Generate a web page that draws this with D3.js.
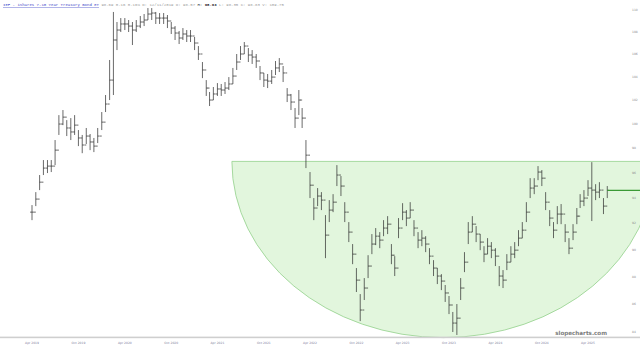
<!DOCTYPE html>
<html lang="en">
<head>
<meta charset="utf-8">
<title>IEF - iShares 7-10 Year Treasury Bond ETF</title>
<script src="https://d3js.org/d3.v7.min.js"></script>
<style>
body{margin:0;background:#fff;}
svg{display:block;}
</style>
</head>
<body>
<div id="chart1"></div>
<script>
// half-month bars, Apr 2019 -> Jun 2025 (1st and 16th of each month)
var firstMonth = "2019-04-01"
var highs = [93.42,94.44,95.80,97.01,97.01,97.01,98.65,100.73,101.16,100.31,
    100.48,100.73,99.48,99.07,99.65,99.15,98.82,99.65,100.99,102.44,
    105.49,109.82,108.90,109.26,109.26,109.08,108.90,109.08,109.45,109.63,
    110.18,110.18,109.82,109.72,109.72,109.54,108.90,108.53,108.08,108.35,
    108.17,108.17,107.54,106.73,105.31,103.73,102.70,103.13,103.47,103.39,
    103.56,103.99,104.79,106.02,106.73,107.09,106.55,106.37,106.02,104.96,
    104.35,104.26,104.61,105.40,105.66,104.96,103.04,102.53,101.33,102.87,
    101.33,98.65,96.04,93.97,94.76,94.44,92.64,93.81,94.28,96.60,
    95.72,93.65,92.10,90.42,88.62,86.71,87.88,89.58,91.18,91.64,
    91.33,92.25,92.56,90.42,89.51,92.41,93.57,93.03,93.65,92.25,
    91.33,91.48,91.02,90.11,89.21,88.62,88.17,87.37,86.57,85.42,
    85.99,87.88,89.81,92.10,92.56,91.79,91.18,90.26,90.87,90.57,
    90.11,88.77,88.47,89.66,90.26,90.57,91.48,92.10,93.65,95.55,
    95.55,96.52,96.20,94.44,93.03,92.10,93.34,93.50,91.94,90.87,
    91.94,93.19,94.28,94.60,95.39,96.84,95.07,95.23,93.97,94.92]
var lows = [92.25,93.34,94.60,95.80,95.96,96.04,96.60,99.07,99.89,98.98,
    98.65,99.07,98.15,97.57,98.32,97.82,97.66,98.40,99.48,100.99,
    102.01,102.44,106.37,107.99,108.17,107.99,106.82,107.99,108.35,108.53,
    109.08,109.08,108.72,108.72,108.72,108.35,107.81,107.27,106.91,107.27,
    107.09,107.09,106.37,105.49,103.90,102.36,101.50,102.01,102.36,102.36,
    102.53,102.87,103.39,104.61,105.49,106.02,105.31,105.14,104.79,103.73,
    103.13,103.04,103.39,104.17,104.43,103.56,101.84,101.16,99.65,100.73,
    99.65,96.36,93.97,92.25,93.34,93.03,89.36,92.10,92.87,94.92,
    94.13,92.10,90.57,88.91,86.86,84.77,86.28,87.88,89.66,90.34,
    90.11,91.02,91.18,88.91,88.03,90.87,92.25,91.79,92.41,91.02,
    90.11,90.26,89.81,88.91,88.03,87.44,87.00,86.14,85.27,84.00,
    83.79,86.28,88.32,90.42,91.33,90.57,89.96,89.06,89.66,89.36,
    88.77,87.29,87.15,88.47,89.06,89.36,90.26,90.87,92.10,93.97,
    94.28,95.39,94.92,93.03,91.79,90.87,91.94,91.94,90.57,89.66,
    90.72,91.94,93.19,93.34,94.13,92.18,93.81,93.97,92.72,93.97]
var closes = [92.87,93.89,95.23,96.36,96.52,96.52,97.82,99.98,100.56,99.65,
    99.32,99.89,98.82,98.24,98.98,98.49,98.15,98.98,100.14,101.67,
    103.73,107.27,108.17,108.72,108.72,108.53,108.17,108.53,108.90,109.08,
    109.63,109.72,109.26,109.26,109.26,108.99,108.35,107.90,107.45,107.81,
    107.63,107.63,107.00,106.02,104.61,103.04,102.01,102.53,102.96,102.87,
    103.04,103.39,104.08,105.31,106.02,106.73,105.93,105.75,105.40,104.35,
    103.73,103.64,103.99,104.79,105.14,104.35,102.44,101.84,100.48,102.01,
    100.48,97.41,94.99,93.19,94.13,93.81,91.10,93.03,93.65,95.80,
    94.92,92.87,91.33,89.66,87.73,85.56,87.15,88.77,90.42,91.02,
    90.72,91.64,91.94,89.58,88.62,91.64,92.87,92.41,93.03,91.64,
    90.72,90.87,90.42,89.51,88.62,88.03,87.66,86.79,85.92,84.63,
    84.98,87.15,89.06,91.33,91.94,91.18,90.57,89.66,90.26,89.96,
    89.51,88.03,87.73,89.06,89.66,89.96,90.87,91.48,92.87,94.76,
    94.92,96.04,95.55,93.65,92.41,91.48,92.72,92.72,91.33,90.11,
    91.33,92.56,93.73,93.97,94.76,94.60,94.44,94.60,93.34,94.58]

var tickLabels = ["Apr 2019","Oct 2019","Apr 2020","Oct 2020","Apr 2021","Oct 2021","Apr 2022",
    "Oct 2022","Apr 2023","Oct 2023","Apr 2024","Oct 2024","Apr 2025"]
var priceTicks = [84,86,88,90,92,94,96,98,100,102,104,106,108,110]

// the green bowl drawn on the chart
var bowlStart = "2021-05-28"
var bowlEnd = "2025-12-20"
var bowlTop = 96.9
var bowlBottom = 83.6

var titleName = "IEF - iShares 7-10 Year Treasury Bond ET"
var titleQuote = [["98.69 0.16 0.16% D: 12/11/2019 O: 98.57 ","#9a9a9a"],["H: ","#333"],["98.93","#222"],[" L: 98.35 C: 98.83 V: 109.75","#9a9a9a"]]

var w = 640, h = 349
var parse = d3.timeParse("%Y-%m-%d")
var parseTick = d3.timeParse("%b %Y")
var start = parse(firstMonth)
var dates = closes.map(function(d,i){
    return d3.timeDay.offset(d3.timeMonth.offset(start, Math.floor(i/2)), i%2 ? 15 : 0)
})

var xScale = d3.scaleTime().domain([parseTick("Apr 2019"), parseTick("Apr 2025")]).range([32,588])
var yScale = d3.scaleLog().domain([84,110]).range([332,10])

var svg = d3.select("#chart1").append("svg").attr("width",w).attr("height",h)

// bowl
var bx0 = xScale(parse(bowlStart)), bx1 = xScale(parse(bowlEnd))
var by0 = yScale(bowlTop), by1 = yScale(bowlBottom)
var rx = (bx1-bx0)/2, ry = by1-by0
svg.append("path")
    .attr("d","M"+bx0+","+by0+"L"+bx1+","+by0+"A"+rx+","+ry+" 0 0 1 "+bx0+","+by0+"Z")
    .attr("fill","#e2f6dd")
    .attr("stroke","#93d18c")
    .attr("stroke-width",0.8)

// bars
var bars = svg.append("g").attr("stroke","#2a2a2a").attr("stroke-width",0.7)
closes.forEach(function(c,i){
    var x = xScale(dates[i])
    var o = i>0 ? closes[i-1] : c
    bars.append("line").attr("x1",x).attr("x2",x).attr("y1",yScale(highs[i])).attr("y2",yScale(lows[i]))
    bars.append("line").attr("x1",x-1.9).attr("x2",x).attr("y1",yScale(o)).attr("y2",yScale(o))
    bars.append("line").attr("x1",x).attr("x2",x+1.9).attr("y1",yScale(c)).attr("y2",yScale(c))
})

// last price line
var lastX = xScale(dates[dates.length-1])
svg.append("line")
    .attr("x1",lastX).attr("x2",w)
    .attr("y1",yScale(closes[closes.length-1])).attr("y2",yScale(closes[closes.length-1]))
    .attr("stroke","#3a9a35").attr("stroke-width",1.2)

// price axis labels
svg.selectAll(".ptick").data(priceTicks).enter().append("text")
    .attr("class","ptick")
    .attr("x",632).attr("y",function(d){ return yScale(d) })
    .attr("dy","0.35em")
    .attr("font-family","DejaVu Sans").attr("font-size",3)
    .attr("fill","#8a8a8a")
    .text(function(d){ return d })

// time axis
svg.append("rect").attr("x",0).attr("y",336.6).attr("width",w).attr("height",1.6).attr("fill","#cfcfcf")
svg.selectAll(".xtick").data(tickLabels).enter().append("text")
    .attr("class","xtick")
    .attr("x",function(d){ return xScale(parseTick(d)) })
    .attr("y",344)
    .attr("text-anchor","middle")
    .attr("font-family","DejaVu Sans").attr("font-size",3)
    .attr("fill","#7f7fa0")
    .text(function(d){ return d })

// watermark
svg.append("text").attr("x",607).attr("y",335).attr("text-anchor","end")
    .attr("font-family","DejaVu Sans").attr("font-weight","bold").attr("font-size",5.6)
    .attr("fill","#7c7c7c").text("slopecharts.com")

// title
var title = svg.append("text").attr("x",3).attr("y",6)
    .attr("font-family","Liberation Mono").attr("font-size",4)
title.append("tspan").attr("fill","#3d45c8").attr("text-decoration","underline").text(titleName)
titleQuote.forEach(function(t,i){
    title.append("tspan").attr("fill",t[1]).attr("font-weight", i==2 ? "bold" : null)
        .text((i==0 ? " " : "")+t[0])
})
</script>
</body>
</html>
